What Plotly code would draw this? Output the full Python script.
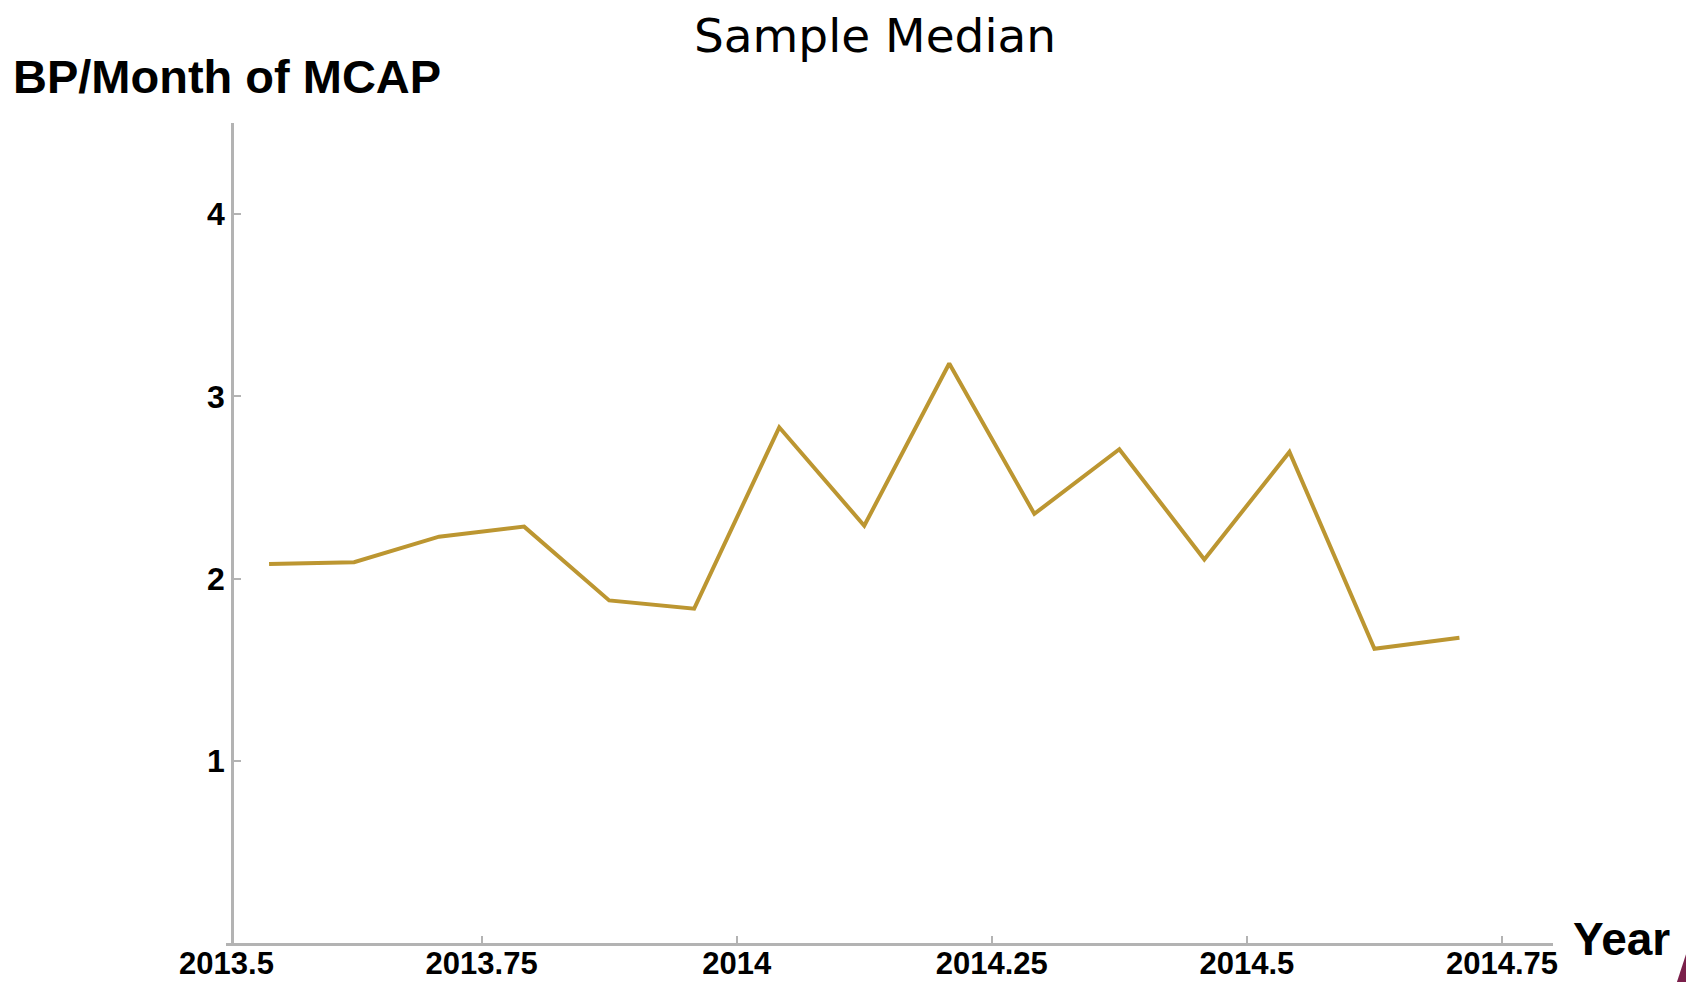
import plotly.graph_objects as go

# monthly sample median, mid-month positions (Jul 2013 - Sep 2014)
years = [2013.5417, 2013.625, 2013.7083, 2013.7917, 2013.875, 2013.9583,
         2014.0417, 2014.125, 2014.2083, 2014.2917, 2014.375, 2014.4583,
         2014.5417, 2014.625, 2014.7083]
median_bp = [2.08, 2.09, 2.23, 2.285, 1.88, 1.835,
             2.83, 2.29, 3.18, 2.355, 2.71, 2.105,
             2.695, 1.615, 1.675]

x_ticks = [2013.5, 2013.75, 2014.0, 2014.25, 2014.5, 2014.75]
x_tick_text = ["2013.5", "2013.75", "2014", "2014.25", "2014.5", "2014.75"]
y_ticks = [1, 2, 3, 4]

# the page body adds an 8px offset, so the figure is a bit smaller than the window
FW, FH, OFF = 1686, 974, 8
L, T = 225.5 - OFF, 122.7 - OFF
R = FW - (1553 - OFF)
B = FH - (942.7 - OFF)
W = FW - L - R
H = FH - T - B

# screen pixel -> paper coords
def px(x):
    return (x - OFF - L) / W

def py(y):
    return (FH - B - (y - OFF)) / H

axis_grey = "#b3b3b3"
tick_font = dict(family="Liberation Sans", size=31, color="black", weight="bold")

fig = go.Figure()
fig.add_trace(go.Scatter(
    x=years, y=median_bp, mode="lines",
    line=dict(color="#BC9631", width=4),
    showlegend=False, hoverinfo="x+y"
))

fig.update_layout(
    width=FW, height=FH,
    margin=dict(l=L, r=R, t=T, b=B, autoexpand=False),
    paper_bgcolor="white", plot_bgcolor="white",
    title=dict(text="Sample Median", x=(875 - OFF) / FW, xanchor="center",
               yref="container", y=1 - (36 - OFF) / FH, yanchor="middle",
               font=dict(family="DejaVu Sans", size=47, color="black")),
    xaxis=dict(range=[2013.4995, 2014.80], tickvals=x_ticks, ticktext=x_tick_text,
               showgrid=False, zeroline=False, showline=True, linecolor=axis_grey,
               linewidth=3, ticks="inside", ticklen=7, tickwidth=1.5,
               tickcolor=axis_grey, tickfont=tick_font, automargin=False,
               ticklabelstandoff=-9),
    yaxis=dict(range=[0, 4.5], tickvals=y_ticks, showgrid=False, zeroline=False,
               showline=True, linecolor=axis_grey, linewidth=3, ticks="inside",
               ticklen=7, tickwidth=1.5, tickcolor=axis_grey,
               tickfont=dict(tick_font, size=32),
               anchor="free", position=px(231.7), automargin=False),
    annotations=[
        dict(text="BP/Month of MCAP", xref="paper", yref="paper",
             x=px(10), y=py(76), xanchor="left", yanchor="middle", showarrow=False,
             font=dict(family="Liberation Sans", size=47, color="black", weight="bold")),
        dict(text="Year", xref="paper", yref="paper",
             x=px(1571), y=py(938.5), xanchor="left", yanchor="middle", showarrow=False,
             font=dict(family="Liberation Sans", size=46, color="black", weight="bold")),
    ],
    shapes=[
        dict(type="path", xref="paper", yref="paper",
             path="M {:.4f},{:.4f} L {:.4f},{:.4f} L {:.4f},{:.4f} L {:.4f},{:.4f} Z".format(
                 px(1671), py(1000), px(1720), py(850), px(1720), py(1000), px(1671), py(1000)),
             fillcolor="#7A1F4A", line=dict(width=0), layer="above"),
    ],
)

fig.write_html("out.html")
